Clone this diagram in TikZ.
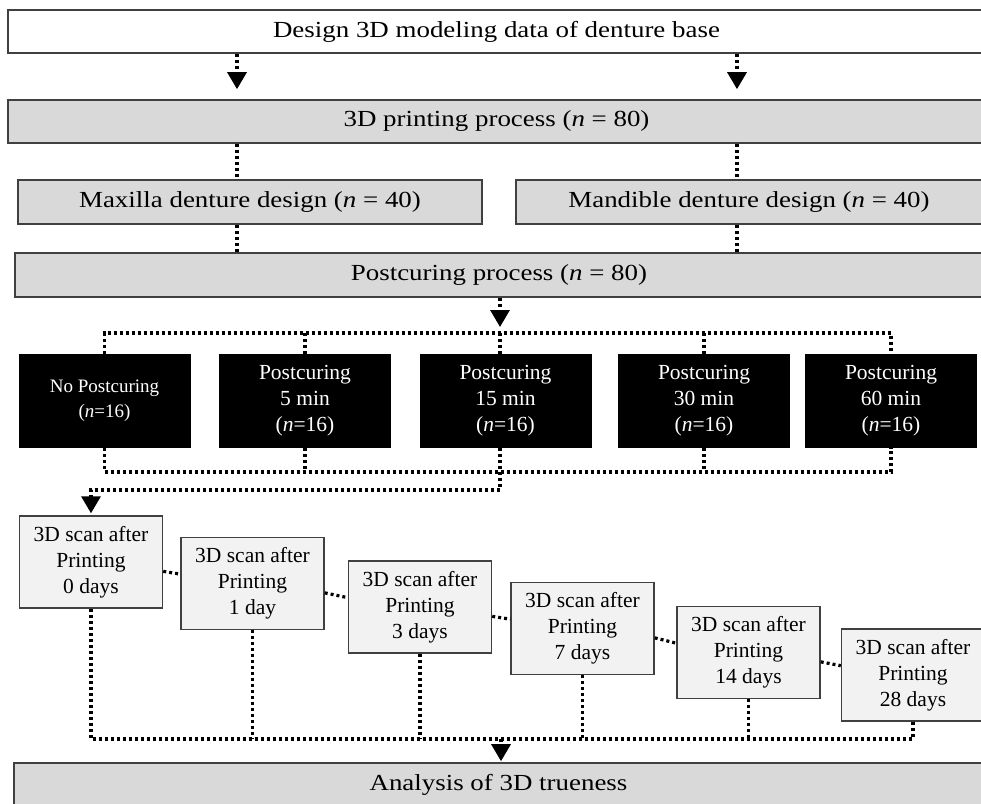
\documentclass[tikz,border=0pt]{standalone}
\usepackage{fontspec}
\setmainfont{Liberation Serif}
\newfontfamily\widefont{Liberation Serif}[FakeStretch=1.17]
\usetikzlibrary{arrows.meta,calc}

\definecolor{boxgray}{HTML}{D9D9D9}
\definecolor{scangray}{HTML}{F2F2F2}
\definecolor{edgegray}{HTML}{404040}

\tikzset{
  bigbox/.style={draw=edgegray, line width=1.6pt, minimum height=43pt, inner sep=0pt,
    font=\widefont\fontsize{23}{27}\selectfont},
  graybox/.style={bigbox, fill=boxgray},
  curebox/.style={fill=black, text=white, minimum width=172pt, minimum height=94pt,
    inner sep=0pt, align=center, font=\fontsize{21.5}{26}\selectfont},
  scanbox/.style={draw=edgegray, line width=1.4pt, fill=scangray, minimum width=143pt,
    minimum height=92pt, inner sep=0pt, align=center, font=\fontsize{21.5}{26}\selectfont},
  dotline/.style={line width=3.2pt, dash pattern=on 3pt off 3pt},
  arrowline/.style={dotline, -{Triangle[width=19pt,length=17pt]}}
}

\begin{document}
\begin{tikzpicture}[x=1pt,y=-1pt]
\useasboundingbox (0,0) rectangle (981,803);

%Design and printing
\node[bigbox, fill=white, minimum width=977pt] (design) at (496.5,31.5) {Design 3D modeling data of denture base};
\node[graybox, minimum width=977pt] (print) at (496.5,121.5) {3D printing process (\textit{n} = 80)};
\node[graybox, minimum width=464pt, minimum height=44pt] (maxilla) at (250,202) {Maxilla denture design (\textit{n} = 40)};
\node[graybox, minimum width=466pt, minimum height=44pt] (mandible) at (749,202) {Mandible denture design (\textit{n} = 40)};
\node[graybox, minimum width=968pt, minimum height=44pt] (postcure) at (499,275) {Postcuring process (\textit{n} = 80)};

%Postcuring groups
\node[curebox, font=\fontsize{19}{25}\selectfont] (c1) at (104.5,401) {No Postcuring\\(\textit{n}=16)};
\node[curebox] (c2) at (305,401) {Postcuring\\5 min\\(\textit{n}=16)};
\node[curebox] (c3) at (505.5,401) {Postcuring\\15 min\\(\textit{n}=16)};
\node[curebox] (c4) at (704,401) {Postcuring\\30 min\\(\textit{n}=16)};
\node[curebox] (c5) at (891,401) {Postcuring\\60 min\\(\textit{n}=16)};

%Scans over time
\node[scanbox] (s0) at (91,562) {3D scan after\\Printing\\0 days};
\node[scanbox] (s1) at (252.5,583.5) {3D scan after\\Printing\\1 day};
\node[scanbox] (s2) at (420,607) {3D scan after\\Printing\\3 days};
\node[scanbox] (s3) at (582.5,628.5) {3D scan after\\Printing\\7 days};
\node[scanbox] (s4) at (748.5,652.5) {3D scan after\\Printing\\14 days};
\node[scanbox] (s5) at (913,675) {3D scan after\\Printing\\28 days};

\node[graybox, minimum width=969pt, minimum height=44pt] (analysis) at (498.5,785) {Analysis of 3D trueness};

%Connectors at the top
\coordinate (lx) at (237,0);
\coordinate (rx) at (737,0);
\draw[arrowline, shorten >=10pt] (design.south -| lx) -- (print.north -| lx);
\draw[arrowline, shorten >=10pt] (design.south -| rx) -- (print.north -| rx);
\draw[dotline] (print.south -| lx) -- (maxilla.north -| lx);
\draw[dotline] (print.south -| rx) -- (mandible.north -| rx);
\draw[dotline] (maxilla.south -| lx) -- (postcure.north -| lx);
\draw[dotline] (mandible.south -| rx) -- (postcure.north -| rx);

%Split into the groups and join again
\coordinate (tbus) at (500,333);
\coordinate (bbus) at (500,472);
\draw[arrowline, shorten >=6pt] (postcure.south -| tbus) -- (tbus);
\draw[dotline] (c1.north) |- (tbus) -| (c5.north);
\draw[dotline] (c2.north) -- (c2.north |- tbus);
\draw[dotline] (c3.north -| tbus) -- (tbus);
\draw[dotline] (c4.north) -- (c4.north |- tbus);
\draw[dotline] (c1.south) |- (bbus) -| (c5.south);
\draw[dotline] (c2.south) -- (c2.south |- bbus);
\draw[dotline] (c3.south -| bbus) -- (bbus);
\draw[dotline] (c4.south) -- (c4.south |- bbus);
\draw[arrowline, shorten >=2pt] (bbus) -- ++(0,18) -| (s0.north);

%Scan chain
\foreach \a/\b in {s0/s1,s1/s2,s2/s3,s3/s4,s4/s5}
  \draw[dotline] ($(\a.east)!0.2!(\a.south east)$) -- ($(\b.west)!0.2!(\b.north west)$);

%Into the analysis
\coordinate (fbus) at (501,739);
\draw[dotline] (s0.south) |- (fbus) -| (s5.south);
\foreach \s in {s1,s2,s3,s4}
  \draw[dotline] (\s.south) -- (\s.south |- fbus);
\draw[arrowline, shorten >=1pt] (fbus) -- (analysis.north -| fbus);
\end{tikzpicture}
\end{document}
